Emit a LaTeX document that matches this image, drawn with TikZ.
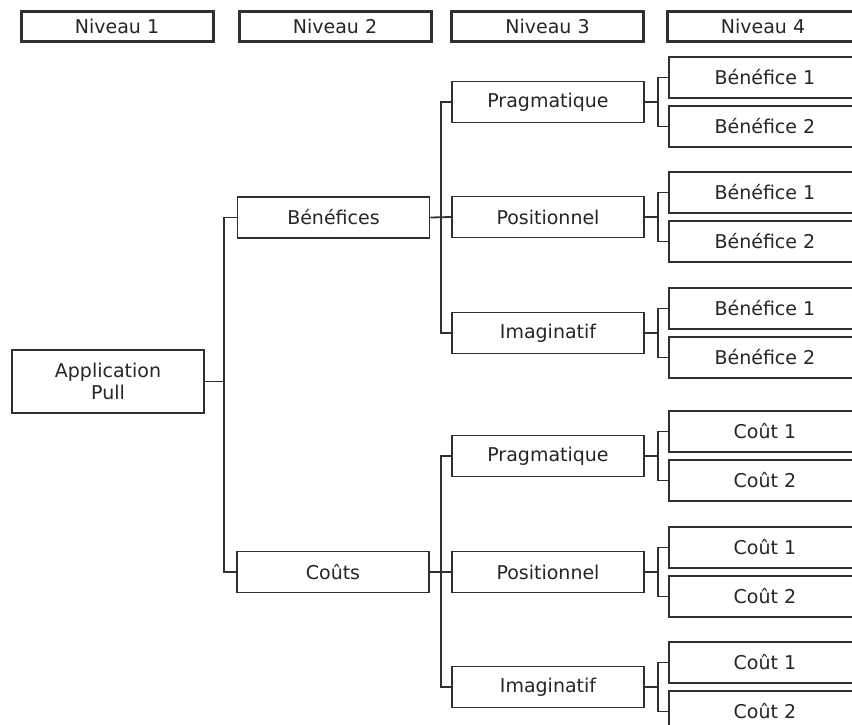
\documentclass[tikz,border=0pt]{standalone}
\usepackage{fontspec}
\setmainfont{DejaVu Sans}
\usepackage{xcolor}
\definecolor{trait}{HTML}{303030}
\definecolor{texte}{HTML}{262626}

\begin{document}
\begin{tikzpicture}[x=1pt,y=-1pt,
		font=\fontsize{19}{22}\selectfont,
		niveau/.style={draw=trait,line width=3pt,minimum width=192,minimum height=30,inner sep=0pt,text=texte},
		boite/.style={draw=trait,line width=1.8pt,minimum width=192,minimum height=41,inner sep=0pt,text=texte,align=center},
		lien/.style={draw=trait,line width=1.8pt}]
		\clip (0,0) rectangle (852,724);
		\fill [white] (0,0) rectangle (852,724);
		% en-tetes
		\foreach \x/\n in {117/1,335/2,547.5/3,763/4}
			\node [niveau] (niv\n) at (\x,26) {Niveau \n};
		%
		\node [boite,minimum height=63] (app) at (108,381.5) {Application\\Pull};
		\node [boite] (ben) at (333.5,217.5) {Bénéfices};
		\node [boite] (cou) at (333,572) {Coûts};
		%
		\node [boite] (pragb) at (548,102) {Pragmatique};
		\node [boite] (posb) at (548,217) {Positionnel};
		\node [boite] (imab) at (548,333) {Imaginatif};
		\node [boite] (pragc) at (548,456) {Pragmatique};
		\node [boite] (posc) at (548,572) {Positionnel};
		\node [boite] (imac) at (548,687) {Imaginatif};
		% niveau 4
		\foreach \p/\lab in {pragb/Bénéfice,posb/Bénéfice,imab/Bénéfice,pragc/Coût,posc/Coût,imac/Coût}{
			\path (\p.east) ++(120,-24.5) node [boite] (\p-1) {\lab\ 1};
			\path (\p.east) ++(120,24.5) node [boite] (\p-2) {\lab\ 2};
			\draw [lien] (\p.east) -- ++(13,0) coordinate (\p-j);
			\draw [lien] (\p-1.west) -| (\p-j) |- (\p-2.west);
		}
		% liens
		\draw [lien] (app.east) -- ++(19,0) coordinate (app-j);
		\draw [lien] (ben.west) -| (app-j) |- (cou.west);
		\draw [lien] (ben.east) -- (posb.west);
		\draw [lien] (pragb.west) -- ++(-10,0) |- (imab.west);
		\draw [lien] (cou.east) -- (posc.west);
		\draw [lien] (pragc.west) -- ++(-10,0) |- (imac.west);
	\end{tikzpicture}
\end{document}
